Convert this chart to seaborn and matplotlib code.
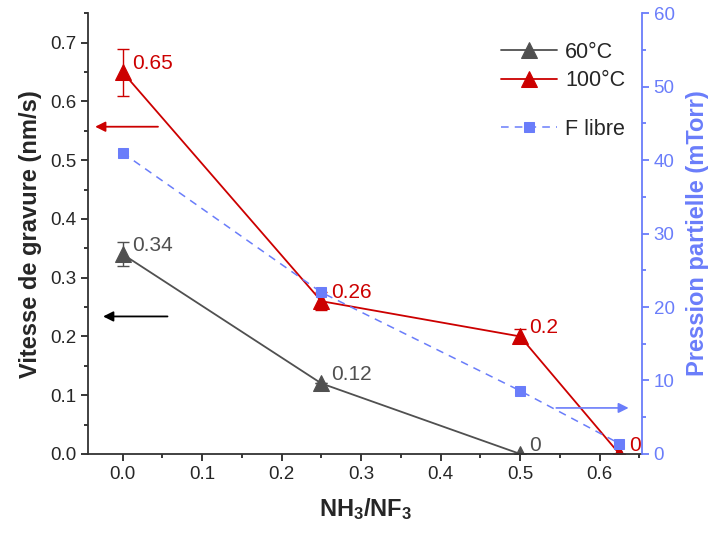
import matplotlib.pyplot as plt
import seaborn as sns
import pandas as pd

# data
ratio = [0.0, 0.25, 0.5, 0.625]
rate_60 = [0.34, 0.12, 0.0, 0.0]
err_60 = [0.02, 0.0, 0.0, 0.0]
rate_100 = [0.65, 0.26, 0.2, 0.0]
err_100 = [0.04, 0.015, 0.012, 0.0]
f_libre = [41.0, 22.0, 8.6, 1.4]
labels_60 = ['0.34', '0.12', '0', '']
labels_100 = ['0.65', '0.26', '0.2', '0']

gray = '#505050'
red = '#CC0000'
blue = '#6A7DFA'

sns.set_style('ticks')
plt.rcParams['font.family'] = ['Liberation Sans', 'DejaVu Sans']
plt.rcParams['mathtext.fontset'] = 'custom'
plt.rcParams['mathtext.rm'] = 'Liberation Sans'
plt.rcParams['mathtext.bf'] = 'Liberation Sans:bold'

fig, ax = plt.subplots(figsize=(7.13, 5.34), dpi=100)
fig.subplots_adjust(left=0.124, right=0.9, top=0.975, bottom=0.15)

df = pd.DataFrame({'x': ratio, 'r60': rate_60, 'r100': rate_100, 'f': f_libre})

sns.lineplot(data=df, x='x', y='r60', ax=ax, color=gray, marker='^', markersize=11,
             markeredgecolor=gray, lw=1.3, label='60°C')
sns.lineplot(data=df, x='x', y='r100', ax=ax, color=red, marker='^', markersize=11,
             markeredgecolor=red, lw=1.3, label='100°C')
ax.errorbar(ratio, rate_60, yerr=err_60, fmt='none', ecolor=gray, elinewidth=1, capsize=4)
ax.errorbar(ratio, rate_100, yerr=err_100, fmt='none', ecolor=red, elinewidth=1, capsize=4)

for x, y, t in zip(ratio, rate_60, labels_60):
    ax.text(x + 0.012, y + 0.015, t, color=gray, fontsize=15, va='center', ha='left')
for x, y, t in zip(ratio, rate_100, labels_100):
    ax.text(x + 0.012, y + 0.015, t, color=red, fontsize=15, va='center', ha='left')

ax.set_xlim(-0.043, 0.653)
ax.set_ylim(0, 0.75)
ax.set_xticks([0, 0.1, 0.2, 0.3, 0.4, 0.5, 0.6])
ax.set_yticks([0, 0.1, 0.2, 0.3, 0.4, 0.5, 0.6, 0.7])
ax.xaxis.set_minor_locator(plt.MultipleLocator(0.05))
ax.yaxis.set_minor_locator(plt.MultipleLocator(0.05))
ax.tick_params(which='major', length=5, width=1.3, labelsize=13.5)
ax.tick_params(which='minor', length=3, width=1.3)
ax.set_xlabel(r'$\mathbf{NH_3/NF_3}$', fontsize=17, labelpad=10)
ax.set_ylabel('Vitesse de gravure (nm/s)', fontsize=17, fontweight='bold', labelpad=6)
for s in ['left', 'bottom']:
    ax.spines[s].set_linewidth(1.3)
    ax.spines[s].set_color('#333333')
ax.spines['top'].set_visible(False)
ax.spines['right'].set_visible(False)

# arrows showing which axis each series uses
ax.annotate('', xy=(-0.038, 0.557), xytext=(0.048, 0.557),
            arrowprops=dict(arrowstyle='-|>', color=red, lw=1.3, mutation_scale=15))
ax.annotate('', xy=(-0.028, 0.234), xytext=(0.06, 0.234),
            arrowprops=dict(arrowstyle='-|>', color='black', lw=1.3, mutation_scale=15))

ax.legend(loc='upper left', bbox_to_anchor=(0.71, 0.98), frameon=False,
          fontsize=15.5, handlelength=2.6, handletextpad=0.4, labelspacing=0.35)

ax2 = ax.twinx()
sns.lineplot(data=df, x='x', y='f', ax=ax2, color=blue, marker='s', markersize=7.5,
             markeredgecolor=blue, lw=1.1, linestyle=(0, (5, 4)), label='F libre')
ax2.annotate('', xy=(0.64, 6.26), xytext=(0.542, 6.26),
             arrowprops=dict(arrowstyle='-|>', color=blue, lw=1.2, mutation_scale=15))
ax2.set_ylim(0, 60)
ax2.set_yticks([0, 10, 20, 30, 40, 50, 60])
ax2.yaxis.set_minor_locator(plt.MultipleLocator(5))
ax2.tick_params(which='major', length=5, width=1.3, labelsize=13.5, colors=blue)
ax2.tick_params(which='minor', length=3, width=1.3, colors=blue)
ax2.set_ylabel('Pression partielle (mTorr)', fontsize=17, fontweight='bold', color=blue,
               labelpad=8)
ax2.spines['right'].set_color(blue)
ax2.spines['right'].set_linewidth(1.3)
ax2.spines['top'].set_visible(False)
ax2.spines['left'].set_visible(False)
ax2.spines['bottom'].set_visible(False)
ax2.legend(loc='upper left', bbox_to_anchor=(0.71, 0.805), frameon=False,
           fontsize=15.5, handlelength=2.6, handletextpad=0.4)

fig.savefig('out.png', dpi=100)
